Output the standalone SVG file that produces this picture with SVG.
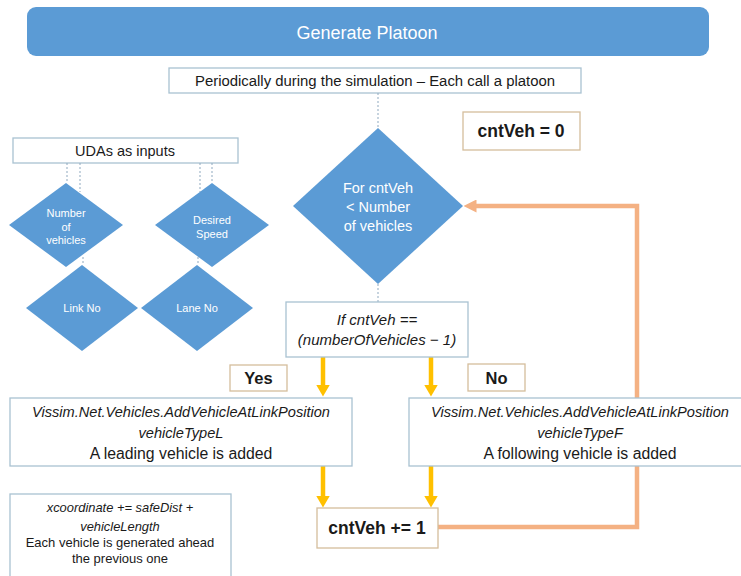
<svg xmlns="http://www.w3.org/2000/svg" width="741" height="576" viewBox="0 0 741 576">
<style>
text{font-family:"Liberation Sans",Arial,sans-serif;text-anchor:middle}
.box{fill:#fff;stroke:#A9C2D2;stroke-width:1.3}
.tan{fill:#fff;stroke:#D5BE9C;stroke-width:1.3}
.dia{fill:#5B9BD5}
.wt{fill:#fff}
.dk{fill:#1a1a1a}
.it{font-style:italic}
.b{font-weight:bold}
.dot{stroke:#8FA9BF;stroke-width:1;stroke-dasharray:2 2;fill:none}
.yl{stroke:#FFC000;stroke-width:4.5;fill:none}
.or{stroke:#F4B183;stroke-width:4.5;fill:none}
</style>
<defs>
<marker id="ya" markerUnits="userSpaceOnUse" viewBox="0 0 12 14" refX="0.5" refY="7" markerWidth="12" markerHeight="14" orient="auto"><path d="M0,0L12,7L0,14z" fill="#FFC000"/></marker>
<marker id="oa" markerUnits="userSpaceOnUse" viewBox="0 0 13 13" refX="0.5" refY="6.5" markerWidth="13" markerHeight="13" orient="auto"><path d="M0,0L13,6.5L0,13z" fill="#F4B183"/></marker>
</defs>
<rect width="741" height="576" fill="#fff"/>

<g id="title">
<rect x="27" y="7" width="682" height="49" rx="9" fill="#5B9BD5"/>
<text x="367" y="39" class="wt" font-size="18">Generate Platoon</text>
</g>

<g id="periodic">
<rect class="box" x="169" y="68" width="412" height="25"/>
<text x="375" y="86" class="dk" font-size="14.9">Periodically during the simulation – Each call a platoon</text>
</g>

<g id="cntveh0">
<rect class="tan" x="463" y="112" width="117" height="38"/>
<text x="521" y="137" class="dk b" font-size="17.5">cntVeh = 0</text>
</g>

<g id="udas">
<rect class="box" x="13" y="138" width="225" height="25"/>
<text x="125" y="156" class="dk" font-size="14.5">UDAs as inputs</text>
</g>

<g id="connectors">
<path class="dot" d="M378,93V128M378,284V302M67,163V183M80,163V192M200,163V192M212,163V183M83,257V265M198,257V265"/>
<path class="yl" d="M323,357V385" marker-end="url(#ya)"/>
<path class="yl" d="M431,357V385" marker-end="url(#ya)"/>
<path class="yl" d="M323,466V496" marker-end="url(#ya)"/>
<path class="yl" d="M431,466V496" marker-end="url(#ya)"/>
<path class="or" d="M438,527H637V206H476" marker-end="url(#oa)"/>
</g>

<g id="numveh">
<path class="dia" d="M66,183L123,225L66,267L9,225z"/>
<text class="wt" font-size="11" x="66" y="217">Number</text>
<text class="wt" font-size="11" x="66" y="231">of</text>
<text class="wt" font-size="11" x="66" y="244">vehicles</text>
</g>

<g id="speed">
<path class="dia" d="M212,183L269,225L212,267L155,225z"/>
<text class="wt" font-size="11" x="212" y="224">Desired</text>
<text class="wt" font-size="11" x="212" y="238">Speed</text>
</g>

<g id="linkno">
<path class="dia" d="M82,265L138,308L82,351L26,308z"/>
<text class="wt" font-size="11" x="82" y="312">Link No</text>
</g>

<g id="laneno">
<path class="dia" d="M197,265L253,308L197,351L141,308z"/>
<text class="wt" font-size="11" x="197" y="312">Lane No</text>
</g>

<g id="fordiamond">
<path class="dia" d="M378,128L463,206L378,284L293,206z"/>
<text class="wt" font-size="14.5" x="378" y="193">For cntVeh</text>
<text class="wt" font-size="14.5" x="378" y="212">&lt; Number</text>
<text class="wt" font-size="14.5" x="378" y="231">of vehicles</text>
</g>

<g id="ifbox">
<rect class="box" x="286" y="302" width="182" height="55"/>
<text class="dk it" font-size="15" x="377" y="325">If cntVeh ==</text>
<text class="dk it" font-size="15" x="377" y="345">(numberOfVehicles − 1)</text>
</g>

<g id="yes">
<rect class="tan" x="230" y="365" width="57" height="26"/>
<text class="dk b" font-size="16.5" x="258.5" y="384">Yes</text>
</g>

<g id="no">
<rect class="tan" x="468" y="364" width="57" height="27"/>
<text class="dk b" font-size="16.5" x="496.5" y="384">No</text>
</g>

<g id="leading">
<rect class="box" x="10" y="398" width="342" height="68"/>
<text class="dk it" font-size="14.6" x="181" y="417">Vissim.Net.Vehicles.AddVehicleAtLinkPosition</text>
<text class="dk it" font-size="14.6" x="181" y="438">vehicleTypeL</text>
<text class="dk" font-size="15.8" x="181" y="459">A leading vehicle is added</text>
</g>

<g id="following">
<rect class="box" x="409" y="398" width="345" height="68"/>
<text class="dk it" font-size="14.6" x="580" y="417">Vissim.Net.Vehicles.AddVehicleAtLinkPosition</text>
<text class="dk it" font-size="14.6" x="580" y="438">vehicleTypeF</text>
<text class="dk" font-size="15.8" x="580" y="459">A following vehicle is added</text>
</g>

<g id="increment">
<rect class="tan" x="317" y="508" width="121" height="40"/>
<text class="dk b" font-size="17.5" x="377" y="534">cntVeh += 1</text>
</g>

<g id="xcoord">
<rect class="box" x="10" y="494" width="221" height="90"/>
<text class="dk it" font-size="12.9" x="120" y="512">xcoordinate += safeDist +</text>
<text class="dk it" font-size="12.9" x="120" y="531">vehicleLength</text>
<text class="dk" font-size="13" x="120" y="547">Each vehicle is generated ahead</text>
<text class="dk" font-size="13" x="120" y="563">the previous one</text>
</g>
</svg>
